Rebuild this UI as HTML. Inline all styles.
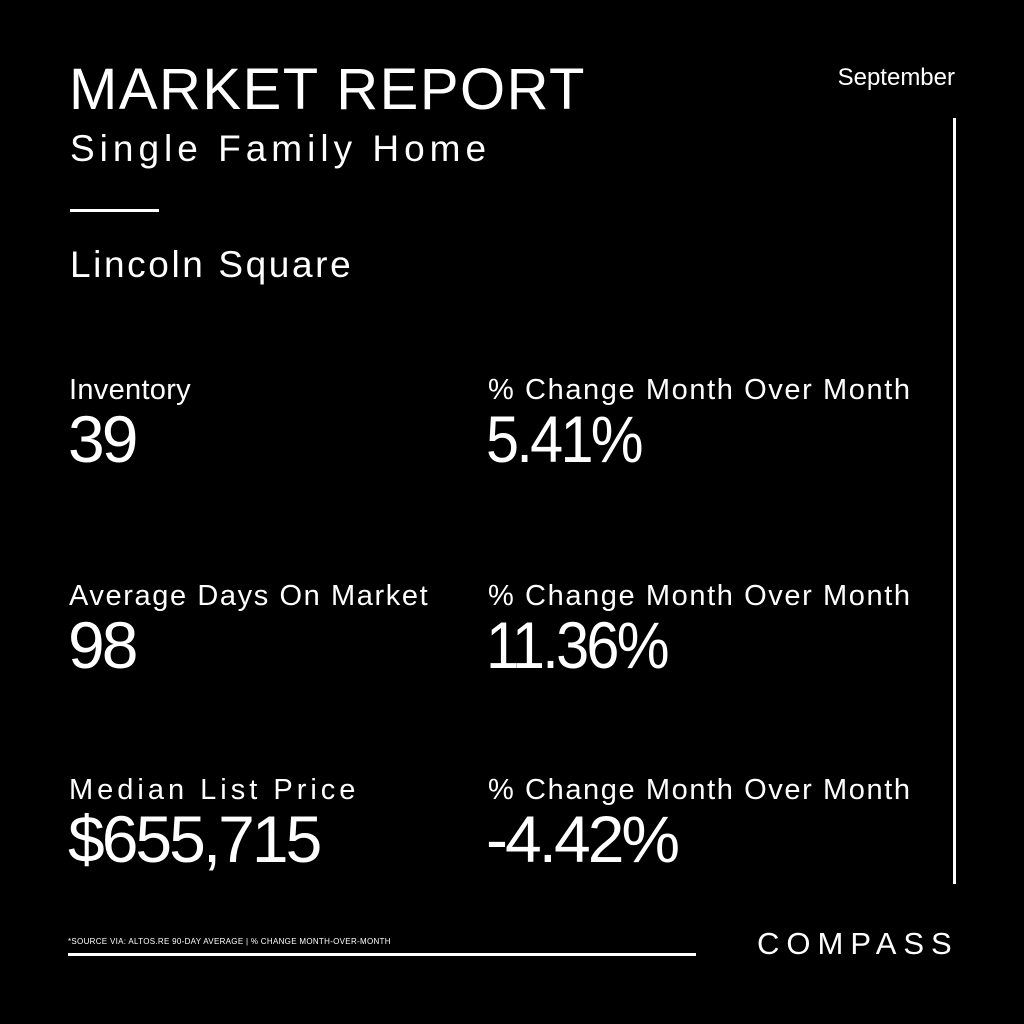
<!DOCTYPE html>
<html><head><meta charset="utf-8"><style>
html,body{margin:0;padding:0;background:#000;}
body{width:1024px;height:1024px;position:relative;overflow:hidden;font-family:"Liberation Sans","DejaVu Sans",sans-serif;color:#fff;}
.t{position:absolute;line-height:1;white-space:nowrap;}
.lab{font-size:29px;letter-spacing:1.6px;}
.num{font-size:66px;letter-spacing:-3px;}
.rn{transform:scaleX(0.9);transform-origin:left top;}
.bar{position:absolute;background:#fff;}
</style></head><body>
<div class="t" style="left:69px;top:61px;font-size:58px;letter-spacing:1.5px;">MARKET REPORT</div>
<div class="t" style="left:70px;top:130px;font-size:37px;letter-spacing:5px;">Single Family Home</div>
<div class="bar" style="left:70px;top:209px;width:89px;height:3px;"></div>
<div class="t" style="left:70px;top:246px;font-size:37px;letter-spacing:2.6px;">Lincoln Square</div>
<div class="t" style="right:69px;top:66px;font-size:24px;">September</div>
<div class="bar" style="left:953px;top:118px;width:3px;height:766px;"></div>

<div class="t lab" style="left:69px;top:376px;letter-spacing:0.3px;">Inventory</div>
<div class="t num" style="left:68px;top:406px;">39</div>
<div class="t lab" style="left:488px;top:376px;">% Change Month Over Month</div>
<div class="t num rn" style="left:486px;top:406px;">5.41%</div>

<div class="t lab" style="left:69px;top:582px;">Average Days On Market</div>
<div class="t num" style="left:68px;top:612px;">98</div>
<div class="t lab" style="left:488px;top:582px;">% Change Month Over Month</div>
<div class="t num rn" style="left:486px;top:612px;">11.36%</div>

<div class="t lab" style="left:69px;top:776px;letter-spacing:4px;">Median List Price</div>
<div class="t num" style="left:68px;top:806px;">$655,715</div>
<div class="t lab" style="left:488px;top:776px;">% Change Month Over Month</div>
<div class="t num" style="left:486px;top:806px;">-4.42%</div>

<div class="t" style="left:68px;top:938px;font-size:8px;letter-spacing:0.3px;">*SOURCE VIA: ALTOS.RE 90-DAY AVERAGE | % CHANGE MONTH-OVER-MONTH</div>
<div class="bar" style="left:68px;top:953px;width:628px;height:3px;"></div>
<div class="t" style="left:757px;top:928px;font-size:31px;letter-spacing:7px;">COMPASS</div>
</body></html>
